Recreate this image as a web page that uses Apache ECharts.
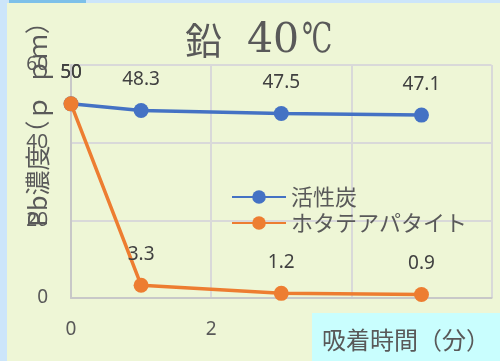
<!DOCTYPE html>
<html>
<head>
<meta charset="utf-8">
<script src="https://cdn.jsdelivr.net/npm/echarts@6/dist/echarts.min.js"></script>
<style>
  html, body { margin: 0; padding: 0; }
  #chart { width: 500px; height: 361px; }
</style>
</head>
<body>
<div id="chart"></div>
<script>
// Adsorption time (minutes) and lead concentration (ppm)
const minutes = [0, 1, 3, 5];
const activatedCarbon = [50, 48.3, 47.5, 47.1];
const scallopApatite = [50, 3.3, 1.2, 0.9];
const seriesNames = ['活性炭', 'ホタテアパタイト'];
const xTicks = { min: 0, max: 6, interval: 2 };
const yTicks = { min: 0, max: 60, interval: 20 };

const toPairs = (xs, ys) => xs.map((x, i) => [x, ys[i]]);

const textGray = '#595959';
const gridGray = '#d9d9d9';
const cjk = '"Noto Sans CJK JP", "Noto Sans", sans-serif';
const latin = '"Noto Sans", sans-serif';
const serif = '"DejaVu Serif", "Liberation Serif", serif';

const labelStyle = {
  show: true,
  position: 'top',
  distance: 14,
  fontSize: 19,
  color: '#404040',
  fontFamily: latin
};

const chart = echarts.init(document.getElementById('chart'), null, { renderer: 'canvas' });

chart.setOption({
  backgroundColor: '#eef6d6',
  animation: false,
  textStyle: { fontFamily: cjk },
  legend: {
    orient: 'vertical',
    left: 226,
    top: 181,
    itemWidth: 54,
    itemHeight: 17,
    itemGap: 4,
    textStyle: { fontSize: 22, color: textGray, fontFamily: cjk },
    data: seriesNames
  },
  grid: { left: 71, right: 7, top: 65, bottom: 63 },
  xAxis: {
    type: 'value',
    min: xTicks.min,
    max: xTicks.max,
    interval: xTicks.interval,
    axisLine: { show: true, lineStyle: { color: '#c8c8c8', width: 2 } },
    axisTick: { show: false },
    splitLine: { show: true, lineStyle: { color: gridGray, width: 2 } },
    axisLabel: { fontSize: 19, color: textGray, margin: 22, fontFamily: latin }
  },
  yAxis: {
    type: 'value',
    min: yTicks.min,
    max: yTicks.max,
    interval: yTicks.interval,
    axisLine: { show: true, lineStyle: { color: '#c8c8c8', width: 2 } },
    axisTick: { show: false },
    splitLine: { show: true, lineStyle: { color: gridGray, width: 2 } },
    axisLabel: { fontSize: 19, color: textGray, margin: 23, fontFamily: latin }
  },
  series: [
    {
      name: seriesNames[0],
      type: 'line',
      data: toPairs(minutes, activatedCarbon),
      symbol: 'circle',
      symbolSize: 15,
      color: '#4472c4',
      lineStyle: { width: 3.5, color: '#4472c4' },
      label: labelStyle,
      z: 3
    },
    {
      name: seriesNames[1],
      type: 'line',
      data: toPairs(minutes, scallopApatite),
      symbol: 'circle',
      symbolSize: 15,
      color: '#ed7d31',
      lineStyle: { width: 3.5, color: '#ed7d31' },
      label: labelStyle,
      z: 4
    }
  ],
  graphic: [
    // frame strips along the left and top edges
    { type: 'rect', left: 0, top: 0, shape: { width: 7, height: 361 }, style: { fill: '#cce5fa' }, z: 100 },
    { type: 'rect', left: 0, top: 0, shape: { width: 500, height: 3 }, style: { fill: '#cce5fa' }, z: 100 },
    { type: 'rect', left: 9, top: 0, shape: { width: 77, height: 3 }, style: { fill: '#7dc0e9' }, z: 101 },
    // chart title: 鉛 40℃
    {
      type: 'text', x: 185, y: 41,
      style: { text: '鉛', font: '37px ' + cjk, fill: textGray, align: 'left', verticalAlign: 'middle' },
      z: 50
    },
    {
      type: 'text', x: 247, y: 41,
      style: { text: '40', font: '41px ' + serif, fill: textGray, align: 'left', verticalAlign: 'middle' },
      z: 50
    },
    {
      type: 'text', x: 302, y: 41, scaleX: 0.66,
      style: { text: '℃', font: '41px ' + serif, fill: textGray, align: 'left', verticalAlign: 'middle' },
      z: 50
    },
    // y-axis title, reading bottom to top
    {
      type: 'text',
      x: 37,
      y: 118,
      rotation: Math.PI / 2,
      style: {
        text: 'Pb濃度（ｐ  ｐｍ）',
        font: '25px ' + cjk,
        fill: textGray,
        align: 'center',
        verticalAlign: 'middle'
      },
      z: 50
    },
    // x-axis title box, drawn over the far tick labels
    {
      type: 'rect',
      x: 312,
      y: 313,
      shape: { x: 0, y: 0, width: 188, height: 48 },
      style: { fill: '#c9fefe' },
      z: 200
    },
    {
      type: 'text',
      x: 406,
      y: 340,
      style: {
        text: '吸着時間（分）',
        font: '24px ' + cjk,
        fill: textGray,
        align: 'center',
        verticalAlign: 'middle'
      },
      z: 201
    }
  ]
});
</script>
</body>
</html>
